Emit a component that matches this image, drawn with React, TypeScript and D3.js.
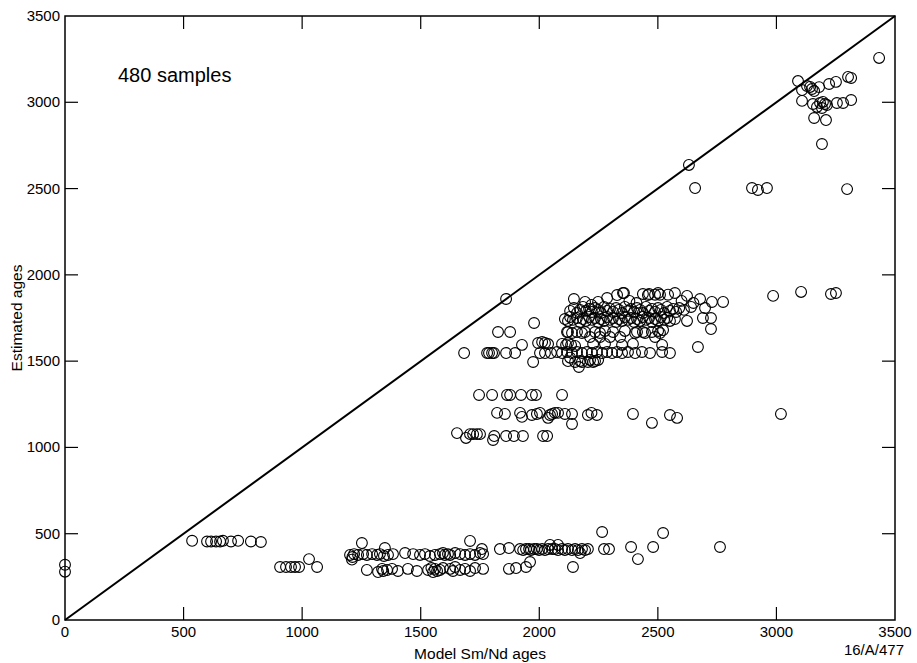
import React from 'react'
import * as d3 from 'd3'

// values (x = model Sm/Nd age, y = estimated age)
const ticks = [0, 500, 1000, 1500, 2000, 2500, 3000, 3500]

const edgePoints = [[0, 320], [0, 280]]

const lowWest = [[536, 459], [599, 455], [616, 455], [637, 455], [654, 455], [666, 459], [700, 455], [730, 459], [784, 455], [826, 452],
  [907, 307], [932, 307], [953, 307], [970, 307], [987, 307], [1029, 353], [1063, 307]]

const lowBandUpper = [[1202, 377], [1210, 350], [1212, 365], [1219, 382], [1236, 377], [1252, 446], [1257, 382], [1273, 377], [1295, 382],
  [1316, 377], [1328, 382], [1345, 371], [1349, 417], [1362, 377], [1383, 382], [1434, 388], [1468, 382], [1497, 377], [1518, 382],
  [1539, 371], [1560, 377], [1581, 382], [1594, 388], [1602, 377], [1615, 382], [1624, 377], [1645, 388], [1666, 382], [1687, 377],
  [1708, 458], [1708, 382], [1729, 377], [1750, 388], [1758, 411], [1763, 382]]

const lowBandLower = [[1273, 290], [1320, 278], [1337, 296], [1342, 284], [1358, 290], [1379, 296], [1404, 284], [1446, 296], [1484, 284],
  [1531, 290], [1545, 301], [1552, 278], [1560, 296], [1569, 284], [1581, 290], [1594, 301], [1624, 296], [1636, 284], [1645, 307],
  [1666, 290], [1687, 296], [1708, 284], [1729, 301], [1763, 296]]

const lowEast = [[1834, 411], [1872, 417], [1919, 411], [1932, 405], [1944, 411], [1957, 411], [1965, 405], [1978, 411], [1990, 411],
  [1999, 405], [2012, 411], [2024, 405], [2037, 411], [2045, 435], [2054, 411], [2066, 411], [2079, 435], [2079, 405], [2096, 411],
  [2108, 405], [2121, 411], [2138, 405], [2151, 411], [2163, 405], [2172, 388], [2180, 411], [2193, 405], [2205, 411],
  [1872, 296], [1902, 301], [1944, 307], [1961, 336], [2142, 307],
  [2265, 510], [2273, 411], [2294, 411], [2387, 423], [2416, 353], [2480, 423], [2522, 504], [2762, 423]]

const band1070 = [[1653, 1083], [1691, 1055], [1708, 1077], [1721, 1077], [1737, 1077], [1750, 1077], [1805, 1043], [1810, 1066],
  [1860, 1066], [1893, 1066], [1931, 1066], [2016, 1066], [2033, 1066]]

const band1200 = [[1822, 1200], [1855, 1194], [1919, 1200], [1927, 1177], [1969, 1188], [1990, 1194], [2003, 1200], [2037, 1171],
  [2045, 1188], [2054, 1194], [2066, 1200], [2079, 1200], [2108, 1194], [2138, 1136], [2138, 1194], [2205, 1188], [2220, 1200],
  [2243, 1188], [2395, 1194], [2475, 1142], [2551, 1188], [2581, 1171], [3019, 1194]]

const band1300 = [[1746, 1304], [1801, 1304], [1864, 1304], [1877, 1304], [1923, 1304], [1969, 1304], [1986, 1304], [2096, 1304]]

const upperWest = [[1683, 1547], [1780, 1547], [1788, 1547], [1801, 1547], [1809, 1547], [1826, 1669], [1860, 1860], [1860, 1547],
  [1877, 1669], [1898, 1547], [1927, 1594], [1974, 1495], [1978, 1721], [1995, 1605], [2003, 1547], [2012, 1611], [2024, 1605],
  [2024, 1547], [2037, 1599], [2049, 1547]]

const row1550 = [[2075, 1553], [2096, 1547], [2117, 1553], [2138, 1547], [2159, 1553], [2180, 1547], [2201, 1553], [2222, 1547],
  [2243, 1553], [2265, 1547], [2286, 1553], [2307, 1547], [2328, 1553], [2349, 1547], [2374, 1553], [2404, 1547], [2433, 1553],
  [2467, 1547], [2518, 1553], [2551, 1547]]

const row1500 = [[2121, 1500], [2130, 1520], [2151, 1495], [2172, 1501], [2167, 1466], [2180, 1495], [2205, 1495], [2214, 1507],
  [2227, 1495], [2235, 1501], [2248, 1507]]

const row1600 = [[2096, 1600], [2113, 1594], [2121, 1605], [2134, 1594], [2151, 1588], [2227, 1600], [2277, 1600], [2349, 1594],
  [2395, 1600], [2518, 1594], [2669, 1582]]

const row1660 = [[2117, 1669], [2121, 1669], [2138, 1663], [2159, 1669], [2180, 1663], [2193, 1669], [2214, 1640], [2235, 1669],
  [2256, 1640], [2256, 1663], [2277, 1675], [2298, 1640], [2311, 1669], [2341, 1640], [2361, 1675], [2404, 1663], [2412, 1669],
  [2437, 1669], [2446, 1663], [2475, 1669], [2488, 1640], [2501, 1675], [2509, 1663], [2522, 1680], [2724, 1686]]

const row1740 = [[2108, 1744], [2121, 1733], [2130, 1756], [2142, 1739], [2159, 1750], [2172, 1727], [2184, 1744], [2197, 1733],
  [2210, 1756], [2222, 1739], [2235, 1750], [2248, 1727], [2260, 1744], [2273, 1733], [2286, 1756], [2298, 1739], [2311, 1750],
  [2324, 1727], [2336, 1744], [2349, 1733], [2361, 1756], [2374, 1739], [2387, 1750], [2400, 1727], [2412, 1744], [2425, 1733],
  [2437, 1756], [2450, 1739], [2463, 1750], [2475, 1727], [2488, 1744], [2501, 1733], [2513, 1756], [2526, 1739], [2539, 1750],
  [2551, 1733], [2572, 1744], [2623, 1733], [2690, 1750], [2724, 1750]]

const row1800 = [[2130, 1791], [2146, 1808], [2159, 1779], [2172, 1797], [2184, 1814], [2197, 1791], [2210, 1803], [2222, 1785],
  [2235, 1808], [2248, 1797], [2260, 1779], [2273, 1814], [2286, 1791], [2298, 1803], [2311, 1785], [2324, 1808], [2336, 1797],
  [2349, 1779], [2361, 1814], [2374, 1791], [2387, 1803], [2400, 1785], [2412, 1808], [2425, 1797], [2437, 1779], [2450, 1814],
  [2463, 1791], [2475, 1803], [2488, 1785], [2501, 1808], [2513, 1797], [2526, 1779], [2539, 1814], [2551, 1791], [2564, 1803],
  [2577, 1785], [2590, 1808], [2610, 1797], [2640, 1814], [2699, 1808]]

const row1860 = [[2146, 1860], [2193, 1843], [2220, 1826], [2248, 1843], [2286, 1866], [2328, 1883], [2353, 1895], [2357, 1895],
  [2380, 1849], [2410, 1837], [2437, 1889], [2458, 1883], [2463, 1889], [2488, 1885], [2501, 1895], [2509, 1885], [2543, 1885],
  [2572, 1895], [2600, 1849], [2623, 1878], [2650, 1837], [2678, 1860], [2728, 1843], [2775, 1843],
  [2986, 1878], [3104, 1901], [3230, 1889], [3251, 1895]]

const topRight = [[2631, 2637], [2657, 2503], [2897, 2503], [2922, 2492], [2960, 2503], [3298, 2497], [3433, 3257], [3091, 3123],
  [3108, 3071], [3129, 3094], [3142, 3089], [3150, 3077], [3159, 3065], [3180, 3088], [3222, 3106], [3251, 3118], [3302, 3147],
  [3315, 3141], [3108, 3008], [3154, 2990], [3171, 2973], [3184, 2996], [3196, 3002], [3205, 2990], [3213, 2984], [3192, 2967],
  [3255, 2996], [3281, 2996], [3315, 3013], [3159, 2909], [3209, 2897], [3192, 2758]]

const allPoints = [edgePoints, lowWest, lowBandUpper, lowBandLower, lowEast, band1070, band1200, band1300, upperWest,
  row1550, row1500, row1600, row1660, row1740, row1800, row1860, topRight].flat()

const W = 917
const H = 663
const left = 65
const right = 895
const top = 16
const bottom = 620
const tickLen = 13
const font = '"Liberation Sans", Arial, sans-serif'
const narrow = '"Liberation Sans Narrow", "Arial Narrow", "Liberation Sans", sans-serif'

export default function App () {
  const x = d3.scaleLinear().domain([0, 3500]).range([left, right])
  const y = d3.scaleLinear().domain([0, 3500]).range([bottom, top])
  const diag = d3.line<number>().x(d => x(d)).y(d => y(d))

  return (
    <svg width={W} height={H} style={{ position: 'absolute', left: 0, top: 0, background: '#fff' }}>
      <rect x={left} y={top} width={right - left} height={bottom - top} fill='none' stroke='#000' strokeWidth={1.5} />
      {ticks.slice(1, -1).map(t => (
        <g key={'t' + t} stroke='#000' strokeWidth={1.2}>
          <line x1={x(t)} x2={x(t)} y1={bottom} y2={bottom - tickLen} />
          <line x1={x(t)} x2={x(t)} y1={top} y2={top + tickLen} />
          <line x1={left} x2={left + tickLen} y1={y(t)} y2={y(t)} />
          <line x1={right} x2={right - tickLen} y1={y(t)} y2={y(t)} />
        </g>
      ))}
      {ticks.map(t => (
        <g key={'l' + t} fontFamily={narrow} fontSize={15} fill='#000'>
          <text x={x(t)} y={bottom + 17} textAnchor='middle'>{t}</text>
          <text x={left - 5} y={y(t) + 5} textAnchor='end'>{t}</text>
        </g>
      ))}
      <path d={diag([0, 3500]) || ''} fill='none' stroke='#000' strokeWidth={2} />
      {allPoints.map((p, i) => (
        <circle key={i} cx={x(p[0])} cy={y(p[1])} r={5.4} fill='none' stroke='#000' strokeWidth={1.1} />
      ))}
      <text x={118} y={82} fontFamily={font} fontSize={20}>480 samples</text>
      <text x={480} y={659} textAnchor='middle' fontFamily={font} fontSize={15.5}>Model Sm/Nd ages</text>
      <text transform={`translate(22,${(top + bottom) / 2}) rotate(-90)`} textAnchor='middle' fontFamily={font} fontSize={15.5}>Estimated ages</text>
      <text x={904} y={655} textAnchor='end' fontFamily={narrow} fontSize={15}>16/A/477</text>
    </svg>
  )
}
